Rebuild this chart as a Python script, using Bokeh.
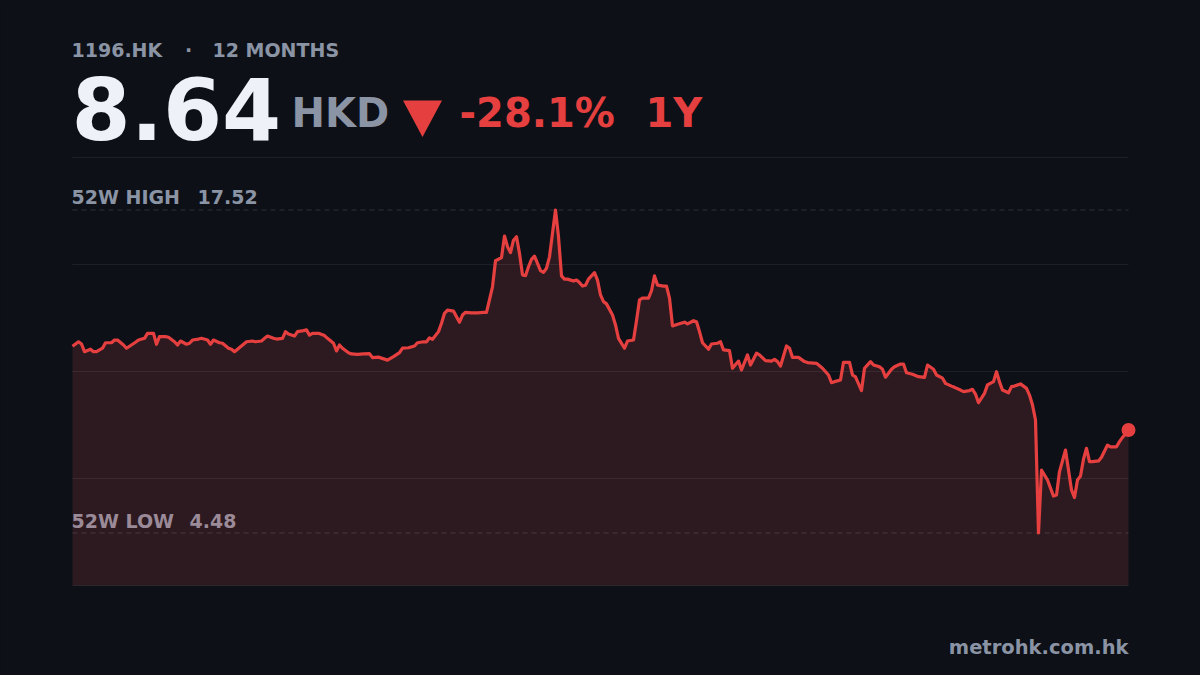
from bokeh.plotting import figure
from bokeh.models import Range1d, Label, GlobalInlineStyleSheet
from bokeh.embed import file_html
from bokeh.resources import INLINE

# ---------------- data ----------------
ticker = "1196.HK"
period_label = "12 MONTHS"
currency = "HKD"
last_price = 8.64
change_pct = -28.1
change_period = "1Y"
high_52w = 17.52
low_52w = 4.48
source = "metrohk.com.hk"

days = [0, 2, 3, 4, 6, 7, 8, 10, 11, 13, 14, 15, 17, 18, 20, 21, 22, 24, 25, 27,
        28, 29, 31, 32, 34, 35, 36, 38, 39, 40, 42, 43, 45, 46, 47, 49, 50, 52, 53, 54,
        56, 57, 58, 60, 61, 63, 64, 65, 67, 68, 70, 71, 72, 74, 75, 77, 78, 79, 80, 82,
        84, 85, 87, 88, 89, 90, 92, 93, 95, 97, 99, 100, 102, 105, 107, 109, 110, 112, 114, 115,
        117, 118, 119, 120, 122, 123, 124, 125, 127, 128, 129, 130, 131, 133, 135, 137, 138, 140, 141, 143,
        144, 145, 146, 147, 148, 149, 150, 151, 152, 153, 154, 155, 156, 157, 158, 159, 160, 161, 162, 163,
        164, 165, 167, 168, 169, 170, 171, 172, 174, 175, 176, 177, 178, 180, 181, 182, 184, 185, 187, 188,
        189, 190, 192, 193, 194, 195, 197, 198, 199, 200, 202, 204, 205, 207, 208, 209, 210, 212, 213, 215,
        216, 217, 219, 220, 222, 223, 225, 226, 228, 229, 231, 233, 234, 235, 236, 238, 239, 240, 242, 244,
        245, 248, 250, 252, 253, 254, 256, 257, 259, 260, 261, 263, 264, 266, 267, 269, 270, 271, 273, 274,
        276, 277, 278, 280, 282, 284, 285, 287, 288, 290, 291, 293, 294, 296, 297, 299, 300, 301, 302, 304,
        305, 307, 308, 309, 310, 312, 313, 314, 316, 318, 319, 320, 321, 322, 323, 325, 327, 328, 329, 331,
        332, 333, 334, 335, 336, 337, 338, 339, 340, 342, 343, 345, 346, 348, 349, 350, 352]

prices = [12.02, 12.20, 12.11, 11.80, 11.90, 11.80, 11.80, 11.94, 12.16, 12.16, 12.27, 12.27, 12.07, 11.94, 12.10, 12.18, 12.27, 12.34, 12.54, 12.54,
          12.10, 12.41, 12.41, 12.38, 12.20, 12.07, 12.23, 12.10, 12.14, 12.27, 12.31, 12.34, 12.27, 12.10, 12.27, 12.16, 12.14, 11.94, 11.90, 11.80,
          12.00, 12.10, 12.20, 12.23, 12.20, 12.23, 12.34, 12.43, 12.34, 12.31, 12.34, 12.61, 12.51, 12.43, 12.61, 12.65, 12.68, 12.47, 12.54, 12.54,
          12.45, 12.34, 12.14, 11.83, 12.07, 11.94, 11.76, 11.71, 11.69, 11.71, 11.72, 11.56, 11.58, 11.46, 11.60, 11.76, 11.94, 11.96, 12.03, 12.16,
          12.20, 12.20, 12.36, 12.30, 12.61, 12.95, 13.35, 13.48, 13.44, 13.21, 12.99, 13.28, 13.39, 13.37, 13.37, 13.39, 13.39, 14.42, 15.47, 15.60,
          16.47, 16.04, 15.80, 16.30, 16.44, 15.77, 14.90, 14.87, 15.23, 15.53, 15.66, 15.37, 15.07, 15.00, 15.17, 15.63, 16.58, 17.52, 16.44, 14.86,
          14.73, 14.73, 14.65, 14.69, 14.59, 14.45, 14.48, 14.73, 14.99, 14.69, 14.09, 13.82, 13.73, 13.28, 12.88, 12.34, 11.94, 12.23, 12.27, 13.05,
          13.89, 13.96, 13.96, 14.26, 14.86, 14.49, 14.45, 14.45, 13.96, 12.84, 12.92, 12.99, 12.92, 13.05, 13.01, 12.61, 12.16, 11.90, 12.11, 12.14,
          12.20, 11.87, 11.84, 11.13, 11.42, 11.06, 11.67, 11.26, 11.74, 11.67, 11.44, 11.42, 11.49, 11.40, 11.22, 12.03, 11.94, 11.57, 11.57, 11.40,
          11.36, 11.33, 11.13, 10.86, 10.55, 10.59, 10.66, 11.37, 11.37, 10.86, 10.78, 10.23, 11.13, 11.40, 11.26, 11.19, 11.09, 10.77, 11.09, 11.19,
          11.30, 11.30, 10.95, 10.89, 10.79, 10.76, 11.26, 11.09, 10.86, 10.73, 10.52, 10.41, 10.36, 10.25, 10.19, 10.23, 10.28, 10.09, 9.74, 10.12,
          10.46, 10.59, 10.99, 10.58, 10.25, 10.14, 10.39, 10.41, 10.50, 10.32, 10.05, 9.65, 9.04, 4.48, 7.02, 6.62, 5.97, 6.01, 6.96, 7.83,
          7.02, 6.22, 5.91, 6.62, 6.78, 7.46, 7.90, 7.36, 7.36, 7.39, 7.54, 8.03, 7.96, 7.96, 8.17, 8.34, 8.64]

# ---------------- layout / style ----------------
W, H = 1200, 675
PLOT_L, PLOT_R, PLOT_T, PLOT_B = 72, 1128, 157, 585
Y_PAD = 2.12
BASELINE_FIX = 0.42  # label y shift (fraction of font size) to land on the alphabetic baseline

BG = "#0d1017"
GREY = "#8b94a5"
WHITE = "#eef1f7"
RED = "#e5403f"
FILL = "#2d1a20"
LOW_TXT = "#9b8a98"
FONT = "DejaVu Sans"

lo = low_52w - Y_PAD
hi = high_52w + Y_PAD

x_scale = (PLOT_R - PLOT_L) / (days[-1] - days[0])
x_start = days[0] - PLOT_L / x_scale
x_end = x_start + W / x_scale
y_scale = (PLOT_B - PLOT_T) / (hi - lo)
y_end = hi + PLOT_T / y_scale
y_start = y_end - H / y_scale


def dx(px):
    return x_start + px / x_scale


def dy(py):
    return y_end - py / y_scale


p = figure(width=W, height=H, x_range=Range1d(x_start, x_end), y_range=Range1d(y_start, y_end),
           toolbar_location=None, output_backend="svg", min_border=0,
           x_axis_location=None, y_axis_location=None,
           background_fill_color=BG, border_fill_color=BG, outline_line_color=None)
p.grid.visible = False
p.stylesheets = [GlobalInlineStyleSheet(css="html, body { margin: 0; padding: 0; background: #0d1017; overflow: hidden; }")]

# area under the price line
p.varea(x=days, y1=lo, y2=prices, fill_color=FILL, fill_alpha=1.0)

# horizontal grid lines (quarters of the value range)
grid_vals = [lo + k * (hi - lo) / 4 for k in range(5)]
p.segment(x0=[days[0]] * 5, x1=[days[-1]] * 5, y0=grid_vals, y1=grid_vals,
          line_color="#ffffff", line_alpha=0.07, line_width=1)

# 52-week high / low reference lines
p.segment(x0=[days[0]] * 2, x1=[days[-1]] * 2, y0=[high_52w, low_52w], y1=[high_52w, low_52w],
          line_color=GREY, line_alpha=0.25, line_width=1, line_dash="5 4")

# price line and last point
p.line(days, prices, line_color=RED, line_width=3.2, line_join="round")
p.scatter([days[-1]], [prices[-1]], size=14, fill_color=RED, line_color=None)

# down triangle
p.patch([dx(402.5), dx(441.5), dx(422)], [dy(100), dy(100), dy(136.5)], fill_color=RED, line_color=None)


def label(px, py, text, size, color, align="left"):
    p.add_layout(Label(x=dx(px), y=dy(py - BASELINE_FIX * size), text=text, text_font=FONT,
                       text_font_style="bold", text_font_size=f"{size}px", text_color=color,
                       text_align=align, text_baseline="alphabetic"))


label(71, 57, ticker, 19, GREY)
label(188, 57, "·", 19, GREY, align="center")
label(212, 57, period_label, 19, GREY)
label(71, 144, f"{last_price:.2f}", 85, WHITE)
label(291, 129, currency, 40, GREY)
label(459, 129, f"{change_pct:.1f}%", 40, RED)
label(645, 129, change_period, 40, RED)
label(71, 204, "52W HIGH", 19, GREY)
label(197, 204, f"{high_52w:.2f}", 19, GREY)
label(71, 528, "52W LOW", 19, LOW_TXT)
label(189, 528, f"{low_52w:.2f}", 19, LOW_TXT)
label(1128, 655, source, 19.5, GREY, align="right")

open("out.html", "w").write(file_html(p, INLINE))
